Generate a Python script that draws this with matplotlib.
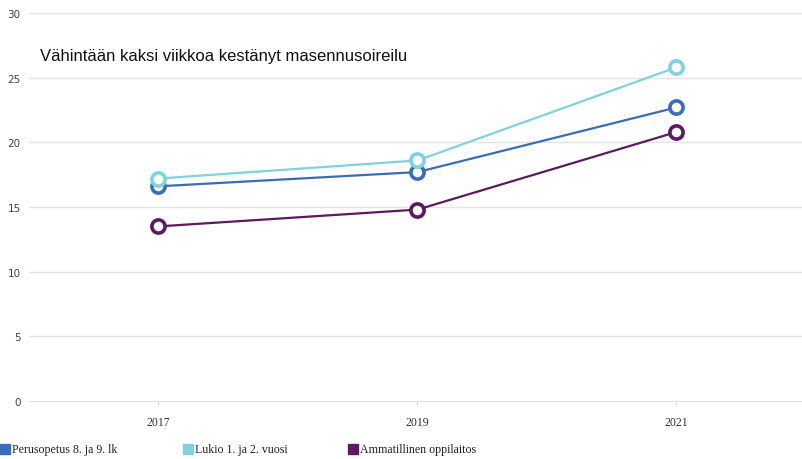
import matplotlib.pyplot as plt
from matplotlib.patches import Rectangle

years = ['2017', '2019', '2021']
perusopetus = [16.6, 17.7, 22.7]
lukio = [17.2, 18.6, 25.8]
ammatillinen = [13.5, 14.8, 20.8]

series = [
    ('Perusopetus 8. ja 9. lk', perusopetus, '#3b6cb7'),
    ('Lukio 1. ja 2. vuosi', lukio, '#80d2dc'),
    ('Ammatillinen oppilaitos', ammatillinen, '#5c1a5f'),
]

W, H = 802, 460
fig = plt.figure(figsize=(W / 100, H / 100), dpi=100)
ax = fig.add_axes([29 / W, 1 - 403 / H, 777 / W, 390 / H])

x = range(len(years))
for name, vals, color in series:
    ax.plot(x, vals, color=color, lw=1.6, marker='o', ms=9.5,
            mfc='white', mec=color, mew=2.6, zorder=3)

ax.set_xlim(-0.5, 2.5)
ax.set_ylim(-0.08, 30.08)
ax.set_yticks(range(0, 31, 5))
ax.set_xticks(list(x))
ax.set_xticklabels(years, family='Liberation Serif', fontsize=8.5, color='#333333')
for lab in ax.get_yticklabels():
    lab.set_family('DejaVu Sans')
    lab.set_fontsize(7.5)
    lab.set_color('#444444')
ax.grid(axis='y', color='#e3e3e3', lw=1)
ax.tick_params(axis='y', length=0, pad=6)
ax.tick_params(axis='x', length=3, color='#dddddd', pad=7)
for s in ax.spines.values():
    s.set_visible(False)
ax.set_axisbelow(True)

fig.text(40 / W, 1 - 57 / H, 'Vähintään kaksi viikkoa kestänyt masennusoireilu',
         family='Liberation Sans', fontsize=12, va='center', color='#111111')

# legend row
leg_x = [0, 183, 348]
for (name, vals, color), lx in zip(series, leg_x):
    fig.patches.append(Rectangle((lx / W, 1 - 455 / H), 10 / W, 10 / H,
                                 transform=fig.transFigure, color=color))
    fig.text((lx + 12) / W, 1 - 450 / H, name, family='Liberation Serif',
             fontsize=8.6, va='center', color='#222222')

fig.savefig('out.png', dpi=100)
